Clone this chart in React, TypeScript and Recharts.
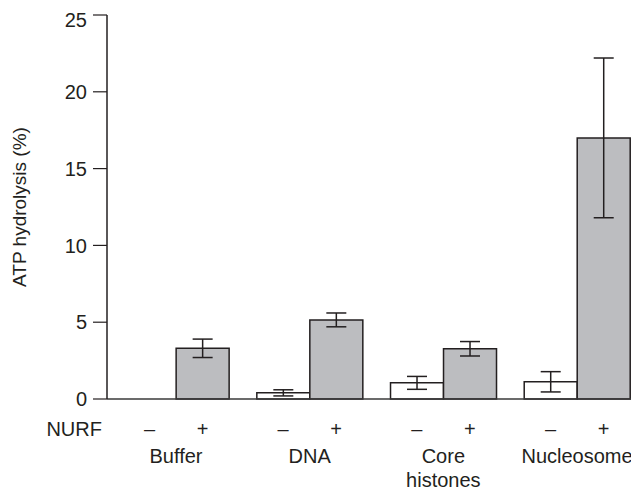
import { Bar, BarChart, ErrorBar, XAxis, YAxis } from "recharts";

const groups = ["Buffer", "DNA", "Core histones", "Nucleosome"];
const minusValues = [0, 0.4, 1.05, 1.12];
const minusErrors = [null, 0.2, 0.42, 0.66];
const plusValues = [3.3, 5.15, 3.27, 17.0];
const plusErrors = [0.6, 0.45, 0.47, 5.2];
const yTicks = [0, 5, 10, 15, 20, 25];
const signLabels = ["–", "+"];

const data = groups.map((name, i) => ({
  pos: i,
  name,
  minus: minusValues[i],
  minusErr: minusErrors[i],
  plus: plusValues[i],
  plusErr: plusErrors[i],
}));

const ink = "#231f20";
const font = "'Liberation Sans', Arial, Helvetica, sans-serif";
const BAR = 53;

// one tick per group: the -/+ row and the group name under it
function GroupTick(props: any) {
  const { x, y, payload } = props;
  const i = payload.value as number;
  const lines = groups[i].split(" ");
  return (
    <g fontFamily={font} fontSize={20} fill={ink}>
      {i === 0 && (
        <text x={x - 74} y={y + 37} textAnchor="end">
          NURF
        </text>
      )}
      <text x={x - BAR / 2} y={y + 37} textAnchor="middle">
        {signLabels[0]}
      </text>
      <text x={x + BAR / 2} y={y + 37} textAnchor="middle">
        {signLabels[1]}
      </text>
      {lines.map((l, k) => (
        <text key={k} x={x} y={y + 64 + k * 24} textAnchor="middle">
          {l}
        </text>
      ))}
    </g>
  );
}

export default function App() {
  return (
    <BarChart
      width={631}
      height={485}
      data={data}
      margin={{ top: 7, right: 7, left: 0, bottom: 0 }}
      barGap={0}
      barSize={BAR}
    >
      <XAxis
        dataKey="pos"
        type="number"
        domain={[-0.516, 3.411]}
        ticks={[0, 1, 2, 3]}
        interval={0}
        height={94}
        tickLine={false}
        tickSize={0}
        tickMargin={0}
        axisLine={{ stroke: "#3a3a3a", strokeWidth: 1.5 }}
        tick={<GroupTick />}
      />
      <YAxis
        domain={[0, 25]}
        ticks={yTicks}
        width={99}
        tickSize={14}
        tickMargin={6}
        axisLine={{ stroke: ink, strokeWidth: 1.5 }}
        tickLine={{ stroke: ink, strokeWidth: 1.2 }}
        tick={{ fill: ink, fontSize: 20, fontFamily: font }}
        label={{
          value: "ATP hydrolysis (%)",
          angle: -90,
          position: "insideLeft",
          offset: 11,
          style: { textAnchor: "middle", fill: ink, fontSize: 19, fontFamily: font },
        }}
      />
      <Bar dataKey="minus" fill="#ffffff" stroke={ink} strokeWidth={1.5} isAnimationActive={false}>
        <ErrorBar dataKey="minusErr" width={10} stroke={ink} strokeWidth={1.5} />
      </Bar>
      <Bar dataKey="plus" fill="#bcbdc0" stroke={ink} strokeWidth={1.5} isAnimationActive={false}>
        <ErrorBar dataKey="plusErr" width={10} stroke={ink} strokeWidth={1.5} />
      </Bar>
    </BarChart>
  );
}
